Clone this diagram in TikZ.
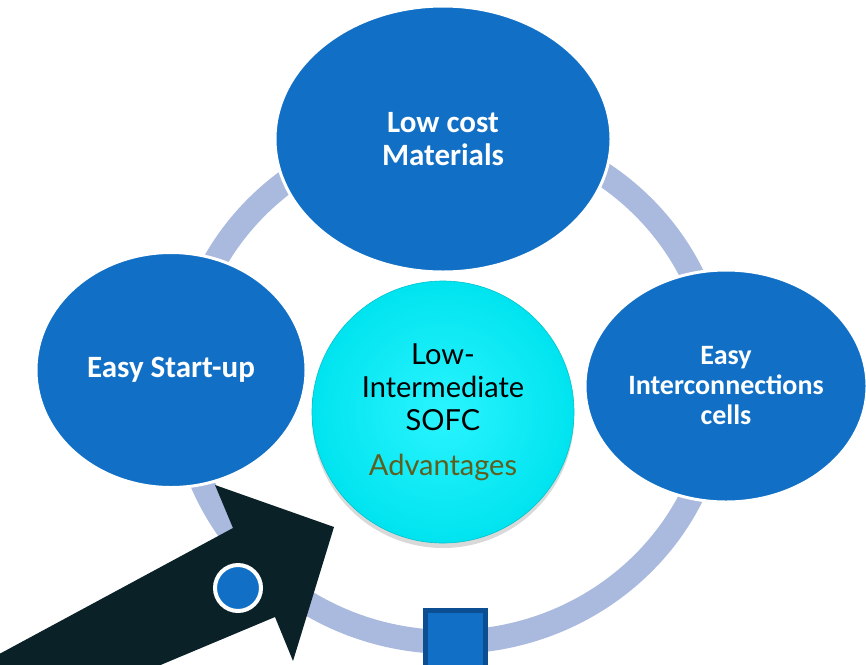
\documentclass[tikz,border=0pt]{standalone}
\usepackage{fontspec}
\setmainfont{Carlito}
\newfontfamily\gillfont{Lato}
\usetikzlibrary{shapes.geometric, shadows}
\usetikzlibrary{positioning}
\usepackage{xcolor}

\definecolor{ovalblue}{HTML}{1170C5}
\definecolor{ringblue}{HTML}{AAB9DE}
\definecolor{coreCyan}{HTML}{00E4EF}
\definecolor{coreLight}{HTML}{2AF4FF}
\definecolor{arrowdark}{HTML}{0A2227}
\definecolor{olivetext}{HTML}{5E5E1E}
\definecolor{sqedge}{HTML}{0B4E92}

\begin{document}
\begin{tikzpicture}[x=1pt, y=-1pt,
	oval/.style={ellipse, fill=ovalblue, draw=white, line width=3pt, inner sep=0pt,
		text=white, align=center, font=\bfseries\fontsize{31}{33}\selectfont},
	core/.style={circle, minimum size=262pt, inner sep=0pt, draw=coreCyan!85!black,
		line width=0.6pt, inner color=coreLight, outer color=coreCyan, align=center,
		drop shadow={shadow xshift=0pt, shadow yshift=-5pt, opacity=0.3},
		font=\gillfont\fontsize{29}{33}\selectfont},
	sqbox/.style={rectangle, fill=ovalblue, draw=sqedge, line width=5pt, minimum size=60pt, inner sep=0pt},
	]
	
	\useasboundingbox (0,0) rectangle (866,664);
	\clip (0,0) rectangle (866,664);
	
	%ring
	\draw[ringblue, line width=24pt] (450,385) ellipse (268pt and 257pt);
	
	%ovals
	\node[oval, minimum width=336pt, minimum height=266pt] (cost) at (443,139) {Low cost\\Materials};
	\node[oval, minimum width=270pt, minimum height=235pt] (start) at (171,370) {Easy Start-up};
	\node[oval, minimum width=282pt, minimum height=232pt, font=\bfseries\fontsize{28}{30}\selectfont]
		(inter) at (726,386) {Easy\\Interconnections\\cells};
	
	%centre
	\node[core] (sofc) at (443,412) {Low-\\Intermediate\\SOFC\\[12pt]\textcolor{olivetext}{Advantages}};
	
	%big arrow
	\fill[arrowdark] (-10,659) -- (233,528) -- (215,485) -- (334,527) -- (293,661)
		-- (275,617) -- (120,682) -- (-10,690) -- cycle;
	\node[circle, fill=ovalblue, draw=white, line width=4pt, minimum size=46pt, inner sep=0pt] (dot) at (238,588) {};
	
	%square
	\node[sqbox] (box) at (455,640) {};
	
\end{tikzpicture}
\end{document}
